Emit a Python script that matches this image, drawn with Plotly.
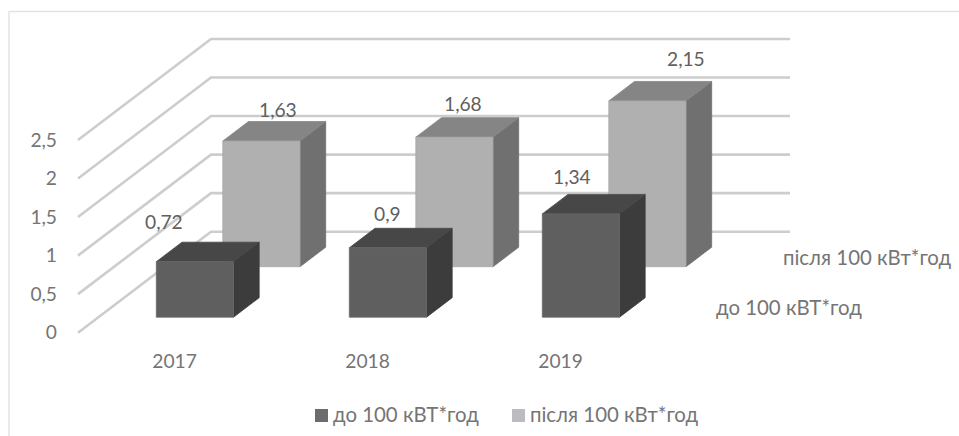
import plotly.graph_objects as go

# ---- data ----
years = ["2017", "2018", "2019"]
series_names = ["до 100 кВТ*год", "після 100 кВт*год"]
before_100 = [0.72, 0.9, 1.34]
after_100 = [1.63, 1.68, 2.15]
value_ticks = [0, 0.5, 1, 1.5, 2, 2.5]

# ---- styling / geometry ----
W, H = 959, 436
PLOT_L, PLOT_B = 62, 348
CAT_PX, UNIT_PX, C0_PX, ZERO_PX = 193.0, 77.1, 174.5, 332.7
DX, DY = 133 / CAT_PX, 101 / UNIT_PX      # oblique shear for full floor depth
BAR_HALF, BAR_DEPTH = 0.2, 0.193
FONT = "Lato, 'Noto Sans', sans-serif"
GREY = "#757575"
NUM_SIZE, TEXT_SIZE = 19.2, 20.4
LABEL_NUDGES = {
    0: [(-31, 40), (0, 34), (-9, 37)],
    1: [(17, 32), (9, 34), (39, 42)],
}
COLORS = {
    0: dict(front="#5f5f5f", top="#474747", side="#3c3c3c", edge="#696969"),
    1: dict(front="#b0b0b0", top="#858585", side="#707070", edge="#a6a6a6"),
}
SERIES_DEPTH = [0.25, 0.75]
SERIES_LABEL_SHIFT = [27, 27]


def project(c, v, t):
    return c + DX * t, v + DY * t


def poly(points):
    xs, ys = zip(*[project(*p) for p in points])
    return list(xs) + [xs[0], None], list(ys) + [ys[0], None]


fig = go.Figure()

# gridlines: left wall then back wall
gx, gy = [], []
for v in value_ticks:
    for p in [(-0.5, v, 0), (-0.5, v, 1), (2.5, v, 1)]:
        x, y = project(*p)
        gx.append(x)
        gy.append(y)
    gx.append(None)
    gy.append(None)
fig.add_trace(go.Scatter(x=gx, y=gy, mode="lines", hoverinfo="skip", showlegend=False,
                         line=dict(color="#cdcdcd", width=2.6)))

annotations = []
for s in [1, 0]:
    values = after_100 if s == 1 else before_100
    col = COLORS[s]
    t0 = SERIES_DEPTH[s] - BAR_DEPTH / 2
    t1 = SERIES_DEPTH[s] + BAR_DEPTH / 2
    faces = {"front": ([], []), "top": ([], []), "side": ([], [])}
    for i, v in enumerate(values):
        l, r = i - BAR_HALF, i + BAR_HALF
        shapes = {
            "front": [(l, 0, t0), (r, 0, t0), (r, v, t0), (l, v, t0)],
            "top": [(l, v, t0), (r, v, t0), (r, v, t1), (l, v, t1)],
            "side": [(r, 0, t0), (r, 0, t1), (r, v, t1), (r, v, t0)],
        }
        for k, pts in shapes.items():
            xs, ys = poly(pts)
            faces[k][0].extend(xs)
            faces[k][1].extend(ys)
        ax, ay = project(i, v, t0)
        nx, ny = LABEL_NUDGES[s][i]
        annotations.append(dict(x=ax, y=ay, xref="x", yref="y", text=str(v).replace(".", ","),
                                showarrow=False, xshift=nx, yshift=ny, xanchor="center", yanchor="middle",
                                font=dict(family=FONT, size=NUM_SIZE, color="#606060")))
    for k in ["side", "top", "front"]:
        edge = col["edge"] if k == "front" else col[k]
        fig.add_trace(go.Scatter(x=faces[k][0], y=faces[k][1], mode="lines", fill="toself",
                                 fillcolor=col[k], line=dict(color=edge, width=0.8),
                                 name=series_names[s], hoverinfo="name", showlegend=False))
    ex, ey = project(2.5, 0, SERIES_DEPTH[s])
    annotations.append(dict(x=ex, y=ey, xref="x", yref="y", text=series_names[s], showarrow=False,
                            xshift=SERIES_LABEL_SHIFT[s] - 3, xanchor="left", yanchor="middle",
                            font=dict(family=FONT, size=TEXT_SIZE, color=GREY)))

plot_w, plot_h = W - PLOT_L, PLOT_B


def px_x(px):
    return (px - PLOT_L) / plot_w


def px_y(py):
    return (PLOT_B - py) / plot_h


# legend row
for name, tx in [(series_names[0], 331), (series_names[1], 528)]:
    annotations.append(dict(x=px_x(tx), y=px_y(414), xref="paper", yref="paper", text=name, showarrow=False,
                            xanchor="left", yanchor="middle", font=dict(family=FONT, size=TEXT_SIZE, color=GREY)))

shapes = [
    dict(type="line", xref="paper", yref="paper", x0=px_x(9), x1=px_x(959), y0=px_y(11.5), y1=px_y(11.5),
         line=dict(color="#e2e2e2", width=1.5)),
    dict(type="line", xref="paper", yref="paper", x0=px_x(9), x1=px_x(9), y0=px_y(11.5), y1=px_y(436),
         line=dict(color="#e2e2e2", width=1.5)),
    dict(type="rect", xref="paper", yref="paper", x0=px_x(315), x1=px_x(328), y0=px_y(409), y1=px_y(422),
         fillcolor="#6c6c70", line=dict(width=0)),
    dict(type="rect", xref="paper", yref="paper", x0=px_x(512), x1=px_x(525), y0=px_y(409), y1=px_y(422),
         fillcolor="#bcbcc0", line=dict(width=0)),
]

fig.update_layout(
    width=W, height=H, margin=dict(l=PLOT_L, r=0, t=0, b=H - PLOT_B, pad=0),
    paper_bgcolor="white", plot_bgcolor="rgba(0,0,0,0)", showlegend=False,
    annotations=annotations, shapes=shapes,
    xaxis=dict(range=[(PLOT_L - C0_PX) / CAT_PX, (W - C0_PX) / CAT_PX], tickmode="array",
               tickvals=[0, 1, 2], ticktext=years, showgrid=False, zeroline=False, showline=False,
               ticks="", ticklabelstandoff=0, tickfont=dict(family=FONT, size=NUM_SIZE, color=GREY), fixedrange=True),
    yaxis=dict(range=[(ZERO_PX - PLOT_B) / UNIT_PX, ZERO_PX / UNIT_PX], tickmode="array",
               tickvals=value_ticks, ticktext=[str(v).replace(".", ",") for v in value_ticks],
               showgrid=False, zeroline=False, showline=False, ticks="", ticklabelstandoff=4,
               tickfont=dict(family=FONT, size=NUM_SIZE, color=GREY), fixedrange=True),
)

fig.write_html("out.html", post_script="document.body.style.margin='0';",
               config={"displayModeBar": False})
